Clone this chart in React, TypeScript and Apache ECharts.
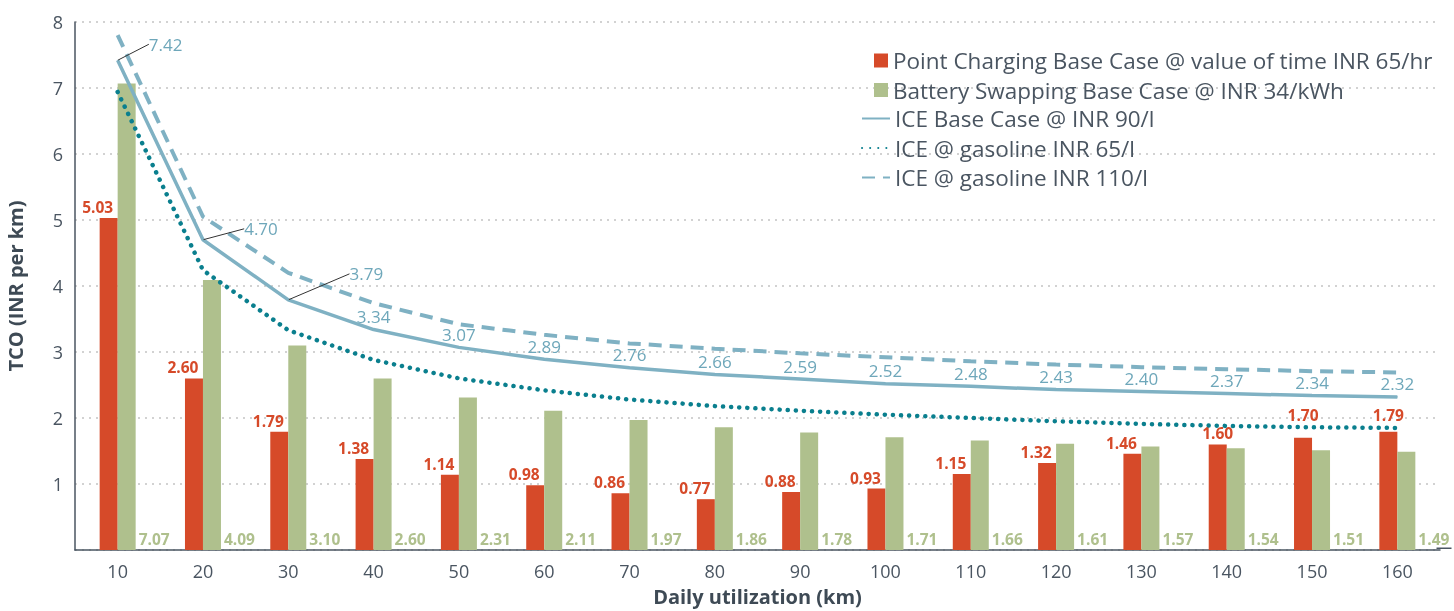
import React, { useEffect, useRef } from 'react';
import * as echarts from 'echarts';

const categories = ['10', '20', '30', '40', '50', '60', '70', '80', '90', '100', '110', '120', '130', '140', '150', '160'];
const pointCharging = [5.03, 2.6, 1.79, 1.38, 1.14, 0.98, 0.86, 0.77, 0.88, 0.93, 1.15, 1.32, 1.46, 1.6, 1.7, 1.79];
const batterySwapping = [7.07, 4.09, 3.1, 2.6, 2.31, 2.11, 1.97, 1.86, 1.78, 1.71, 1.66, 1.61, 1.57, 1.54, 1.51, 1.49];
const iceBase = [7.42, 4.7, 3.79, 3.34, 3.07, 2.89, 2.76, 2.66, 2.59, 2.52, 2.48, 2.43, 2.4, 2.37, 2.34, 2.32];
const ice65 = [6.94, 4.24, 3.33, 2.88, 2.6, 2.42, 2.28, 2.18, 2.11, 2.05, 2.0, 1.95, 1.91, 1.88, 1.86, 1.85];
const ice110 = [7.8, 5.05, 4.2, 3.74, 3.42, 3.26, 3.13, 3.05, 2.98, 2.92, 2.86, 2.81, 2.77, 2.74, 2.71, 2.69];

const seriesNames = [
  'Point Charging Base Case @ value of time INR 65/hr',
  'Battery Swapping Base Case @ INR 34/kWh',
  'ICE Base Case @ INR 90/l',
  'ICE @ gasoline INR 65/l',
  'ICE @ gasoline INR 110/l',
];

const FONT = '"Open Sans", sans-serif';
const RED = '#d64a29';
const GREEN = '#afc08d';
const ICE = '#7fb1c3';
const TEAL = '#0a7f8e';
const GREY = '#4a5561';

// label placement tweaks (style only)
const redOffset = (i: number): number[] => {
  if (i === 13) return [0, 0];
  if (i === 14) return [0, -12];
  if (i === 15) return [0, -6];
  return [-11, 0];
};
const leaderShift: Record<number, { dx: number; dy: number }> = {
  0: { dx: 48, dy: -3 },
  1: { dx: 58, dy: 2 },
  2: { dx: 78, dy: -13 },
};

export default function App() {
  const ref = useRef<HTMLDivElement>(null);
  useEffect(() => {
    const chart = echarts.init(ref.current!, null, { renderer: 'svg' });
    const legendText = { fontFamily: FONT, fontSize: 22.5, color: GREY };
    const option: any = {
      animation: false,
      textStyle: { fontFamily: FONT },
      grid: { left: 75, right: 14, top: 22, bottom: 61, outerBoundsMode: 'none', containLabel: false },
      legend: [
        {
          orient: 'vertical',
          left: 869,
          top: 44,
          itemWidth: 14,
          itemHeight: 14,
          itemGap: 6.5,
          icon: 'rect',
          textStyle: legendText,
          data: [seriesNames[0], seriesNames[1]],
        },
        {
          orient: 'vertical',
          left: 856,
          top: 102,
          itemWidth: 28,
          itemHeight: 14,
          itemGap: 6.5,
          itemStyle: { opacity: 0 },
          textStyle: legendText,
          data: [seriesNames[2], seriesNames[3], seriesNames[4]],
        },
      ],
      xAxis: {
        type: 'category',
        data: categories,
        axisLine: { show: true, lineStyle: { color: GREY, width: 1.5 } },
        axisTick: { show: false },
        axisLabel: { fontFamily: FONT, fontSize: 18, color: GREY, margin: 12 },
        name: 'Daily utilization (km)',
        nameLocation: 'middle',
        nameGap: 36,
        nameTextStyle: { fontFamily: FONT, fontSize: 20, fontWeight: 'bold', color: '#3e4a55' },
      },
      yAxis: {
        type: 'value',
        min: 0,
        max: 8,
        interval: 1,
        axisLine: { show: true, lineStyle: { color: GREY, width: 1.5 } },
        axisTick: { show: false },
        axisLabel: {
          fontFamily: FONT,
          fontSize: 18,
          color: GREY,
          margin: 12,
          formatter: (v: number) => (v === 0 ? '' : String(v)),
        },
        splitLine: { show: true, lineStyle: { color: '#c4c4c4', type: [2, 5], width: 1.5 } },
        name: 'TCO (INR per km)',
        nameLocation: 'middle',
        nameGap: 50,
        nameTextStyle: { fontFamily: FONT, fontSize: 20, fontWeight: 'bold', color: '#3e4a55' },
      },
      graphic: [
        {
          type: 'line',
          right: 0,
          bottom: 60.25,
          shape: { x1: 0, y1: 0, x2: 15, y2: 0 },
          style: { stroke: GREY, lineWidth: 1.5 },
        },
      ],
      series: [
        {
          name: seriesNames[0],
          type: 'bar',
          barWidth: 18,
          barGap: '0%',
          itemStyle: { color: RED },
          data: pointCharging.map((v, i) => ({
            value: v,
            label: { offset: redOffset(i) },
          })),
          label: {
            show: true,
            position: 'top',
            distance: 3,
            color: RED,
            fontFamily: FONT,
            fontSize: 15.5,
            fontWeight: 'bold',
            formatter: (p: any) => p.value.toFixed(2),
          },
          z: 2,
        },
        {
          name: seriesNames[1],
          type: 'bar',
          barWidth: 18,
          barGap: '0%',
          itemStyle: { color: GREEN },
          data: batterySwapping,
          label: {
            show: true,
            position: ['100%', '100%'],
            align: 'left',
            verticalAlign: 'bottom',
            offset: [3, -3],
            color: GREEN,
            fontFamily: FONT,
            fontSize: 15.5,
            fontWeight: 'bold',
            formatter: (p: any) => p.value.toFixed(2),
          },
          z: 2,
        },
        {
          name: seriesNames[2],
          type: 'line',
          symbol: 'circle',
          symbolSize: 1,
          showSymbol: true,
          data: iceBase.map((v, i) => ({
            value: v,
            labelLine: { show: i < 3 },
          })),
          lineStyle: { color: ICE, width: 3.5 },
          itemStyle: { color: ICE },
          label: {
            show: true,
            position: 'top',
            distance: 4,
            color: '#6ea7ba',
            fontFamily: FONT,
            fontSize: 17,
            formatter: (p: any) => p.value.toFixed(2),
          },
          labelLine: { show: false, lineStyle: { color: '#333', width: 1 } },
          labelLayout: (p: any) => leaderShift[p.dataIndex] || {},
          z: 4,
        },
        {
          name: seriesNames[3],
          type: 'line',
          symbol: 'none',
          data: ice65,
          lineStyle: { color: TEAL, width: 4.5, type: [0.1, 8], cap: 'round' },
          itemStyle: { color: TEAL },
          z: 3,
        },
        {
          name: seriesNames[4],
          type: 'line',
          symbol: 'none',
          data: ice110,
          lineStyle: { color: ICE, width: 4, type: [13, 8] },
          itemStyle: { color: ICE },
          z: 3,
        },
      ],
    };
    chart.setOption(option);
    return () => chart.dispose();
  }, []);
  return <div ref={ref} style={{ position: 'fixed', left: 0, top: 0, width: 1454, height: 611 }} />;
}
